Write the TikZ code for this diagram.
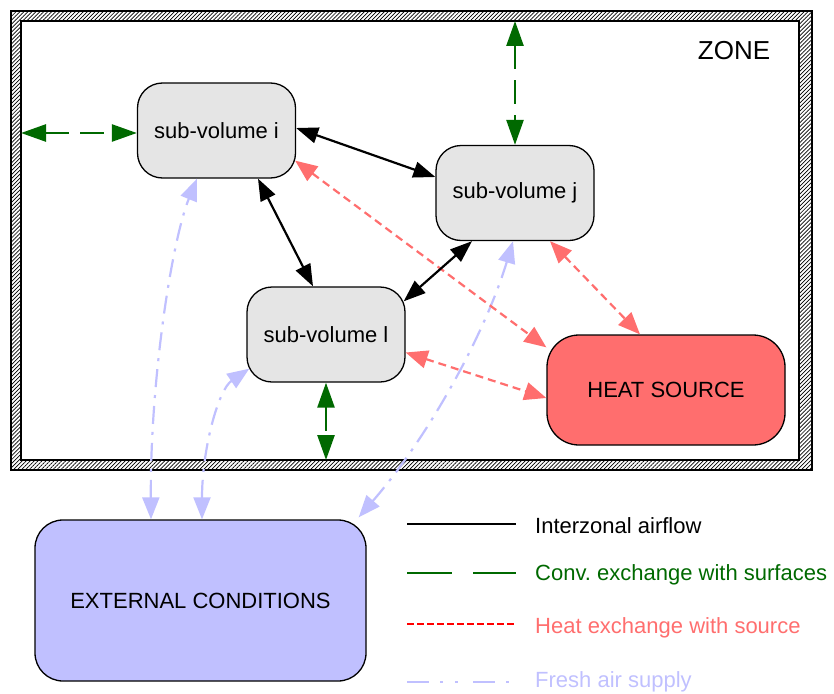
\documentclass[tikz,border=0pt]{standalone}
\usepackage{fontspec}
\setmainfont{Liberation Sans}
\usetikzlibrary{arrows.meta,patterns.meta,calc}
\definecolor{gfill}{RGB}{229,229,229}
\definecolor{hfill}{RGB}{255,110,110}
\definecolor{efill}{RGB}{192,192,255}
\definecolor{convg}{RGB}{0,105,0}
\definecolor{heatr}{RGB}{255,110,110}
\definecolor{airb}{RGB}{192,192,255}
\begin{document}
\frenchspacing
\begin{tikzpicture}[x=1pt,y=-1pt,
  box/.style={draw=black,line width=1.3pt,rounded corners=25pt,inner sep=0pt,
    font=\fontsize{22}{26}\selectfont},
  sub/.style={box,fill=gfill,minimum width=158pt,minimum height=95pt},
  flowln/.style={black,line width=2.2pt,
    {Triangle[length=22pt,width=16pt]}-{Triangle[length=22pt,width=16pt]}},
  convln/.style={convg,line width=2.6pt,dash pattern=on 24pt off 11pt,
    {Triangle[length=25pt,width=17pt]}-{Triangle[length=25pt,width=17pt]}},
  heatln/.style={heatr,line width=2.2pt,dash pattern=on 8pt off 5pt,
    {Triangle[length=22pt,width=18pt]}-{Triangle[length=22pt,width=18pt]}},
  airln/.style={airb,line width=2.2pt,dash pattern=on 18pt off 8pt on 3pt off 8pt,
    {Triangle[length=22pt,width=17pt]}-{Triangle[length=22pt,width=17pt]}},
  lbl/.style={anchor=base west,inner sep=0pt,font=\fontsize{22}{26}\selectfont}]
\useasboundingbox (0,0) rectangle (834,693);
% zone wall
\fill[pattern={Lines[angle=45,distance=2.8pt,line width=0.7pt]},even odd rule]
  (11,11) rectangle (812,470) (21,21) rectangle (799,460);
\draw[line width=1.3pt] (11,11) rectangle (812,470);
\draw[line width=1.3pt] (21,21) rectangle (799,460);
\node[font=\fontsize{26}{30}\selectfont] (zone) at (734,51) {ZONE};
% nodes
\node[sub] (i) at (216.5,130.5) {sub-volume i};
\node[sub] (j) at (515,193) {sub-volume j};
\node[sub] (l) at (326,334.5) {sub-volume l};
\node[box,fill=hfill,rounded corners=32pt,minimum width=238pt,minimum height=110pt] (hs) at (666,390) {HEAT SOURCE};
\node[box,fill=efill,rounded corners=28pt,minimum width=331pt,minimum height=161pt] (ext) at (200.5,600.5) {EXTERNAL CONDITIONS};
% wall points
\coordinate (wL) at (21,133);
\coordinate (wT) at (515,21);
\coordinate (wB) at (326,460);
% fresh air
\draw[airln] ([xshift=-49.5pt]ext.north) .. controls (150,380) and (172,240) .. ([xshift=-19.5pt]i.south);
\draw[airln] ([xshift=1.5pt]ext.north) .. controls (202,450) and (218,390) .. ([xshift=3pt,yshift=14pt]l.south west);
\draw[airln] ([xshift=-8pt,yshift=2pt]ext.north east) .. controls (430,435) and (486,331) .. ([xshift=-2pt]j.south);
% convection
\draw[convln] (wL) -- (wL -| i.west);
\draw[convln] (wT) -- (j.north);
\draw[convln] (l.south) -- (wB);
% heat exchange
\draw[heatln] ([xshift=-1pt,yshift=18pt]i.south east) -- ([yshift=-13pt]hs.north west);
\draw[heatln] ([xshift=35pt]j.south) -- ([xshift=-26pt]hs.north);
\draw[heatln] ([yshift=-18pt]l.east) -- ([yshift=-8pt]hs.west);
% interzonal airflow
\draw[flowln] ([yshift=2.5pt]i.east) -- ([yshift=16pt]j.west);
\draw[flowln] ([xshift=41.5pt]i.south) -- ([xshift=-13pt]l.north);
\draw[flowln] ([xshift=-43pt]j.south) -- ([xshift=-2pt,yshift=-15pt]l.north east);
% legend
\draw[black,line width=2pt] (407,524) -- (516,524);
\node[lbl,text=black] (lg1) at (535,533) {Interzonal airflow};
\draw[convg,line width=2.5pt,dash pattern=on 45pt off 21pt] (407,573) -- (516,573);
\node[lbl,text=convg] (lg2) at (535,580) {Conv. exchange with surfaces};
\draw[red,line width=2pt,dash pattern=on 7pt off 3pt] (407,624) -- (516,624);
\node[lbl,text=heatr] (lg3) at (535,633) {Heat exchange with source};
\draw[airb,line width=2pt,dash pattern=on 22pt off 11pt on 3pt off 12pt on 3pt off 15pt] (407,682) -- (516,682);
\node[lbl,text=airb] (lg4) at (535,687) {Fresh air supply};
\end{tikzpicture}
\end{document}
